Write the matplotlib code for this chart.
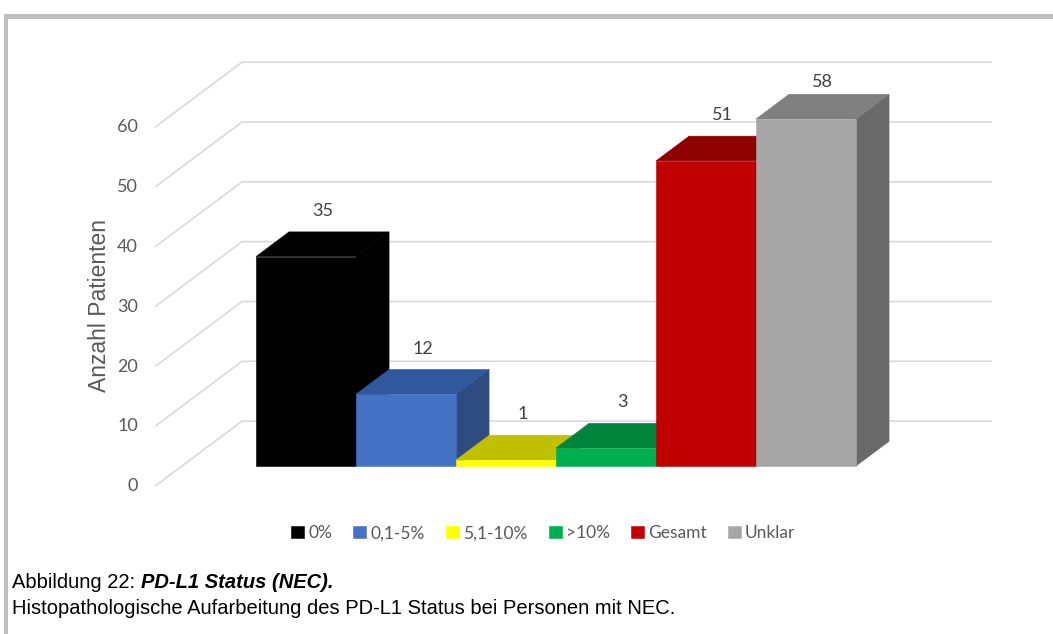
import matplotlib
matplotlib.use("Agg")
import matplotlib.pyplot as plt
from matplotlib.patches import Polygon, Rectangle

categories = ["0%", "0,1-5%", "5,1-10%", ">10%", "Gesamt", "Unklar"]
patients = [35, 12, 1, 3, 51, 58]
front_colors = ["#000000", "#4472c4", "#ffff00", "#00b050", "#c00000", "#a6a6a6"]
top_colors = ["#000000", "#30589c", "#c0c000", "#00843c", "#8f0000", "#808080"]
side_colors = ["#000000", "#2e4b82", "#9a9a00", "#006b30", "#760000", "#6a6a6a"]
grid_values = [0, 10, 20, 30, 40, 50, 60]

# oblique 3D look: one unit of depth shifts a point by (DX, DY) in data units
DX, DY = 0.87, 10.87
BAR_DEPTH = 0.38
FLOOR_FRONT, WALL_BACK = -0.31, 0.69
WALL_LEFT, WALL_RIGHT = -1.24, 6.26

GREY_TXT = "#595959"
UI_FONT = ["Lato", "DejaVu Sans"]
ARIAL = ["Liberation Sans", "DejaVu Sans"]


def proj(x, y, d):
    return (x + d * DX, y + d * DY)


fig = plt.figure(figsize=(10.53, 6.34), dpi=100)
ax = fig.add_axes([0, 0, 1, 1])
ax.set_xlim(-3.06, 7.47)
ax.set_ylim(-28.08, 77.89)
ax.axis("off")

# gridlines: diagonal along the left floor edge, then across the back wall
for g in grid_values:
    pts = [proj(WALL_LEFT, g, FLOOR_FRONT), proj(WALL_LEFT, g, WALL_BACK),
           proj(WALL_RIGHT, g, WALL_BACK)]
    xs, ys = zip(*pts)
    ax.plot(xs, ys, color="#d9d9d9", lw=1.2, zorder=1, solid_capstyle="butt")
    ax.text(pts[0][0] - 0.17, pts[0][1], str(g), ha="right", va="center",
            fontsize=13, color=GREY_TXT, family=UI_FONT)

# bars, left to right so each front hides the neighbour's side face
for i, (v, lab) in enumerate(zip(patients, categories)):
    x0, x1 = i - 0.5, i + 0.5
    side = [proj(x1, 0, 0), proj(x1, 0, BAR_DEPTH), proj(x1, v, BAR_DEPTH), proj(x1, v, 0)]
    top = [proj(x0, v, 0), proj(x1, v, 0), proj(x1, v, BAR_DEPTH), proj(x0, v, BAR_DEPTH)]
    ax.add_patch(Polygon(side, closed=True, facecolor=side_colors[i],
                         edgecolor=side_colors[i], lw=0.4, zorder=2 + 3 * i))
    ax.add_patch(Polygon(top, closed=True, facecolor=top_colors[i],
                         edgecolor=top_colors[i], lw=0.4, zorder=3 + 3 * i))
    ax.bar(i, v, width=1, color=front_colors[i], edgecolor=front_colors[i],
           lw=0.4, label=lab, zorder=4 + 3 * i)
    lx, ly = proj(i, v, BAR_DEPTH / 2)
    ax.text(lx, min(v + BAR_DEPTH * DY + 3.5, 64.2), str(v), ha="center", va="center",
            fontsize=13, color="#404040", family=UI_FONT, zorder=30)

ax.text(-2.06, 26.8, "Anzahl Patienten", rotation=90, ha="center", va="center",
        fontsize=16.5, color=GREY_TXT, family=ARIAL)

leg = ax.legend(loc="center", bbox_to_anchor=(0.516, 0.159), bbox_transform=fig.transFigure,
                ncol=6, frameon=False, handlelength=0.75, handleheight=0.75,
                handletextpad=0.25, columnspacing=1.2, labelcolor=GREY_TXT,
                prop={"family": UI_FONT, "size": 12.5})

# frame around the figure area
fig.patches.append(Rectangle((4 / 1053, 1 - 19 / 634), 1, 5 / 634, transform=fig.transFigure,
                             facecolor="#bfbfbf", edgecolor="none"))
fig.patches.append(Rectangle((4 / 1053, 0), 4 / 1053, 1 - 14 / 634, transform=fig.transFigure,
                             facecolor="#bfbfbf", edgecolor="none"))

# caption: regular prefix followed by bold italic title
cap1 = fig.text(12 / 1053, 1 - 583 / 634, "Abbildung 22: ", ha="left", va="center",
                fontsize=14.5, color="black", family=ARIAL)
fig.canvas.draw()
bb = cap1.get_window_extent()
fig.text(bb.x1 / 1053, 1 - 583 / 634, "PD-L1 Status (NEC).", fontsize=14.5, color="black",
         family=ARIAL, fontweight="bold", style="italic", ha="left", va="center")
fig.text(12 / 1053, 1 - 608 / 634,
         "Histopathologische Aufarbeitung des PD-L1 Status bei Personen mit NEC.",
         ha="left", va="center", fontsize=14.5, color="black", family=ARIAL)

fig.savefig("out.png", dpi=100)
